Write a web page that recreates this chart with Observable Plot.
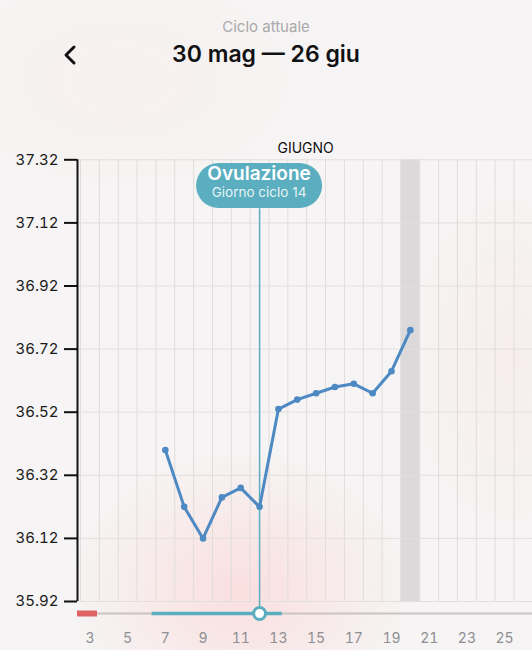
<!DOCTYPE html>
<html><head><meta charset="utf-8">
<script src="https://cdn.jsdelivr.net/npm/d3@7"></script>
<script src="https://cdn.jsdelivr.net/npm/@observablehq/plot@0.6"></script>
<style>
html,body{margin:0;padding:0;width:532px;height:650px;overflow:hidden;font-family:Inter,"Noto Sans",sans-serif;
background:
 radial-gradient(ellipse 170px 140px at 240px 590px, rgba(252,214,214,0.7), rgba(252,214,214,0) 100%),
 radial-gradient(ellipse 110px 180px at 510px 360px, rgba(250,225,225,0.35), rgba(250,225,225,0) 100%),
 radial-gradient(ellipse 200px 120px at 120px 80px, rgba(250,230,230,0.3), rgba(250,230,230,0) 100%),
 #f6f4f4;}
#hdr{position:relative;height:140px;}
#sub{position:absolute;top:17px;width:100%;text-align:center;font-size:15px;color:#a9a9ab;}
#ttl{position:absolute;top:40px;width:100%;text-align:center;font-size:23px;font-weight:600;color:#111;}
#back{position:absolute;left:62px;top:44px;}
</style></head>
<body>
<div id="hdr">
  <div id="sub">Ciclo attuale</div>
  <div id="ttl">30 mag — 26 giu</div>
  <svg id="back" width="20" height="22"><polyline points="12,3 4,11 12,19" fill="none" stroke="#111" stroke-width="3" stroke-linecap="round" stroke-linejoin="round"/></svg>
</div>
<div id="chart"></div>
<script>
// ---- data ----
const days  = [7, 8, 9, 10, 11, 12, 13, 14, 15, 16, 17, 18, 19, 20];
const temps = [36.40, 36.22, 36.12, 36.25, 36.28, 36.22, 36.53, 36.56, 36.58, 36.60, 36.61, 36.58, 36.65, 36.78];
const yTicks = [35.92, 36.12, 36.32, 36.52, 36.72, 36.92, 37.12, 37.32];
const xTicks = [3, 5, 7, 9, 11, 13, 15, 17, 19, 21, 23, 25];
const gridDays = [2.5,3.5,4.5,5.5,6.5,7.5,8.5,9.5,10.5,11.5,12.5,13.5,14.5,15.5,16.5,17.5,18.5,19.5,20.5,21.5,22.5,23.5,24.5,25.5,26.5];
const xDomain = [2.34, 26.48];
const yDomain = [35.92, 37.32];
const todayDay = [20];
const ovulationDay = [12];
const ovulationCycleDay = 14;
const monthLabel = ["GIUGNO"];
const monthLabelDay = [12.95];
const periodRange = [[1, 3.4]];
const fertileRange = [[6.3, 13.2]];

const teal = "#5aaebf";
const lineCol = "#4d89c2";

const data = days.map((d, i) => ({day: d, temp: temps[i]}));

const bubble = (index, scales, values, dims) => {
  const cx = scales.x(ovulationDay[0]);
  const top = dims.marginTop + 3.7;
  const w = 126, h = 45;
  const g = d3.create("svg:g");
  g.append("rect").attr("x", cx - w/2).attr("y", top).attr("width", w).attr("height", h)
    .attr("rx", 22.5).attr("fill", teal);
  g.append("text").attr("x", cx).attr("y", top + 17).attr("text-anchor", "middle")
    .attr("font-size", 19).attr("font-weight", 600).attr("fill", "#fff").attr("font-family", "Inter, sans-serif")
    .text("Ovulazione");
  g.append("text").attr("x", cx).attr("y", top + 34).attr("text-anchor", "middle")
    .attr("font-size", 13.5).attr("fill", "rgba(255,255,255,0.88)").attr("font-family", "Inter, sans-serif")
    .text("Giorno ciclo " + ovulationCycleDay);
  return g.node();
};

const chart = Plot.plot({
  width: 532,
  height: 510,
  marginLeft: 77,
  marginRight: 0,
  marginTop: 19.3,
  marginBottom: 49,
  style: {background: "transparent", fontFamily: "Inter, sans-serif", overflow: "visible"},
  x: {domain: xDomain, type: "linear"},
  y: {domain: yDomain},
  marks: [
    Plot.rect(todayDay, {x1: d => d - 0.5, x2: d => d + 0.5, fill: "#d8d6d6", fillOpacity: 0.9}),
    Plot.ruleX(gridDays, {stroke: "#e0dcdc", strokeWidth: 1}),
    Plot.ruleY(yTicks, {stroke: "#e3dfdf", strokeWidth: 1}),
    Plot.ruleX(ovulationDay, {stroke: teal, strokeWidth: 1.5, insetTop: 49, insetBottom: -12}),
    Plot.line(data, {x: "day", y: "temp", stroke: lineCol, strokeWidth: 3, strokeLinejoin: "round"}),
    Plot.dot(data, {x: "day", y: "temp", r: 3.3, fill: lineCol}),
    // slider under plot
    Plot.ruleY([yDomain[0]], {x1: xDomain[0], x2: xDomain[1], dy: 12, stroke: "#cbc3c3", strokeWidth: 2}),
    Plot.ruleY(periodRange, {x1: d => Math.max(d[0], xDomain[0]), x2: d => d[1], y: () => yDomain[0], dy: 12, stroke: "#de6464", strokeWidth: 6}),
    Plot.ruleY(fertileRange, {x1: d => d[0], x2: d => d[1], y: () => yDomain[0], dy: 12, stroke: teal, strokeWidth: 3.5}),
    Plot.dot(ovulationDay, {x: d => d, y: () => yDomain[0], dy: 12, r: 6, fill: "#fff", stroke: teal, strokeWidth: 3}),
    // axes
    Plot.ruleX([xDomain[0]], {stroke: "#111", strokeWidth: 2}),
    Plot.axisY(yTicks, {tickSize: 13, tickPadding: 6, strokeWidth: 2, stroke: "#111", fontSize: 15, fill: "#1a1a1a",
      tickFormat: d => d.toFixed(2), label: null}),
    Plot.axisX(xTicks, {tickSize: 0, tickPadding: 32, fontSize: 14, fill: "#8e8e92", label: null, tickFormat: d => String(d)}),
    Plot.text(monthLabel, {x: () => monthLabelDay[0], frameAnchor: "top", dy: -16.5, textAnchor: "start", fontSize: 14, fill: "#111", text: d => d}),
    bubble
  ]
});
document.getElementById("chart").appendChild(chart);
</script>
</body></html>
